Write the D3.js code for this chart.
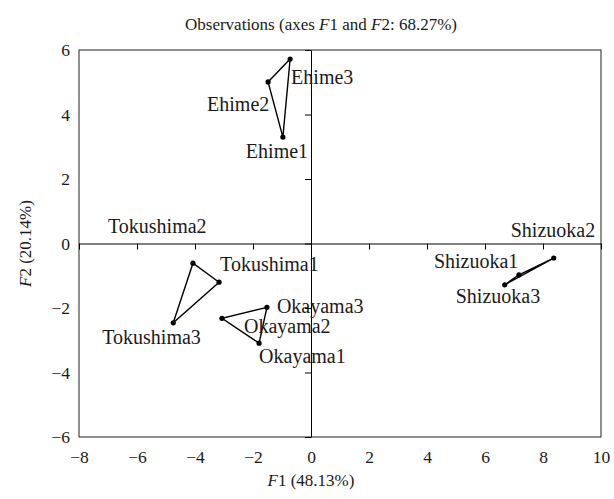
<!DOCTYPE html>
<html>
<head>
<meta charset="utf-8">
<script src="https://cdn.jsdelivr.net/npm/d3@7"></script>
<style>
  body { margin: 0; background: #fff; }
  svg text { font-family: "Liberation Serif", "DejaVu Serif", serif; fill: #1a1a1a; }
  .tick line { stroke: #000; }
</style>
</head>
<body>
<div id="chart"></div>
<script>
// observations (PCA scores on F1 / F2)
const obsNames = ["Ehime1", "Ehime2", "Ehime3",
                  "Okayama1", "Okayama2", "Okayama3",
                  "Shizuoka1", "Shizuoka2", "Shizuoka3",
                  "Tokushima1", "Tokushima2", "Tokushima3"];
const f1Values = [-0.97, -1.48, -0.72,
                  -1.79, -3.07, -1.52,
                   7.17,  8.37,  6.68,
                  -3.17, -4.07, -4.75];
const f2Values = [ 3.30,  5.01,  5.72,
                  -3.09, -2.32, -1.98,
                  -0.97, -0.45, -1.28,
                  -1.20, -0.61, -2.46];
const groups = ["Ehime", "Okayama", "Shizuoka", "Tokushima"];

const xTicks = [-8, -6, -4, -2, 0, 2, 4, 6, 8, 10];
const yTicks = [-6, -4, -2, 0, 2, 4, 6];

// label placement (pixel offsets from the point: text start, baseline)
const labelOffsets = {
  Ehime1: [-37, 21], Ehime2: [-61, 29], Ehime3: [1, 25],
  Okayama1: [0, 20], Okayama2: [22, 15], Okayama3: [10, 6],
  Shizuoka1: [-85, -7], Shizuoka2: [-43, -21], Shizuoka3: [-49, 18],
  Tokushima1: [1, -11], Tokushima2: [-85, -30], Tokushima3: [-71, 21]
};

const width = 614, height = 499;
const margin = {top: 50, right: 13, bottom: 62, left: 79};

const data = obsNames.map((n, i) => ({
  name: n, x: f1Values[i], y: f2Values[i], group: n.replace(/\d+$/, "")
}));

const svg = d3.select("#chart").append("svg")
  .attr("width", width)
  .attr("height", height);

const x = d3.scaleLinear().domain([-8, 10])
  .range([margin.left, width - margin.right]);
const y = d3.scaleLinear().domain([-6, 6])
  .range([height - margin.bottom, margin.top]);

const minus = d => d < 0 ? "\u2212" + Math.abs(d) : d;

// frame
svg.append("rect")
  .attr("x", x(-8)).attr("y", y(6))
  .attr("width", x(10) - x(-8)).attr("height", y(-6) - y(6))
  .attr("fill", "none").attr("stroke", "#222").attr("stroke-width", 1);

// tick labels on the frame, no tick marks
svg.append("g")
  .attr("transform", "translate(0," + y(-6) + ")")
  .call(d3.axisBottom(x).tickValues(xTicks).tickSize(0).tickPadding(14).tickFormat(minus))
  .call(g => g.select(".domain").remove())
  .selectAll("text").attr("font-size", 17.5);

svg.append("g")
  .attr("transform", "translate(" + x(-8) + ",0)")
  .call(d3.axisLeft(y).tickValues(yTicks).tickSize(0).tickPadding(9).tickFormat(minus))
  .call(g => g.select(".domain").remove())
  .selectAll("text").attr("font-size", 17.5);

// axes through the origin, with tick marks
svg.append("g")
  .attr("transform", "translate(0," + y(0) + ")")
  .call(d3.axisBottom(x).tickValues(xTicks).tickSize(6).tickSizeOuter(0).tickFormat(""))
  .call(g => g.select(".domain").attr("stroke", "#000"));

svg.append("g")
  .attr("transform", "translate(" + x(0) + ",0)")
  .call(d3.axisLeft(y).tickValues(yTicks).tickSize(6).tickSizeOuter(0).tickFormat(""))
  .call(g => g.select(".domain").attr("stroke", "#000"));

// group polygons
const line = d3.line().x(d => x(d.x)).y(d => y(d.y)).curve(d3.curveLinearClosed);
svg.append("g").selectAll("path")
  .data(groups.map(g => data.filter(d => d.group === g)))
  .enter().append("path")
  .attr("d", line)
  .attr("fill", "none")
  .attr("stroke", "#000")
  .attr("stroke-width", 1.4);

// points
svg.append("g").selectAll("circle")
  .data(data)
  .enter().append("circle")
  .attr("cx", d => x(d.x))
  .attr("cy", d => y(d.y))
  .attr("r", 2.6)
  .attr("fill", "#000");

// point labels
svg.append("g").selectAll("text")
  .data(data)
  .enter().append("text")
  .attr("x", d => x(d.x) + labelOffsets[d.name][0])
  .attr("y", d => y(d.y) + labelOffsets[d.name][1])
  .attr("font-size", 20)
  .text(d => d.name);

// title
const title = svg.append("text")
  .attr("x", 321).attr("y", 30)
  .attr("text-anchor", "middle")
  .attr("font-size", 17);
title.append("tspan").text("Observations (axes ");
title.append("tspan").attr("font-style", "italic").text("F");
title.append("tspan").text("1 and ");
title.append("tspan").attr("font-style", "italic").text("F");
title.append("tspan").text("2: 68.27%)");

// axis titles
const xTitle = svg.append("text")
  .attr("x", x(0)).attr("y", 486)
  .attr("text-anchor", "middle")
  .attr("font-size", 17);
xTitle.append("tspan").attr("font-style", "italic").text("F");
xTitle.append("tspan").text("1 (48.13%)");

const yTitle = svg.append("text")
  .attr("transform", "translate(31," + y(0) + ") rotate(-90)")
  .attr("text-anchor", "middle")
  .attr("font-size", 17);
yTitle.append("tspan").attr("font-style", "italic").text("F");
yTitle.append("tspan").text("2 (20.14%)");
</script>
</body>
</html>
